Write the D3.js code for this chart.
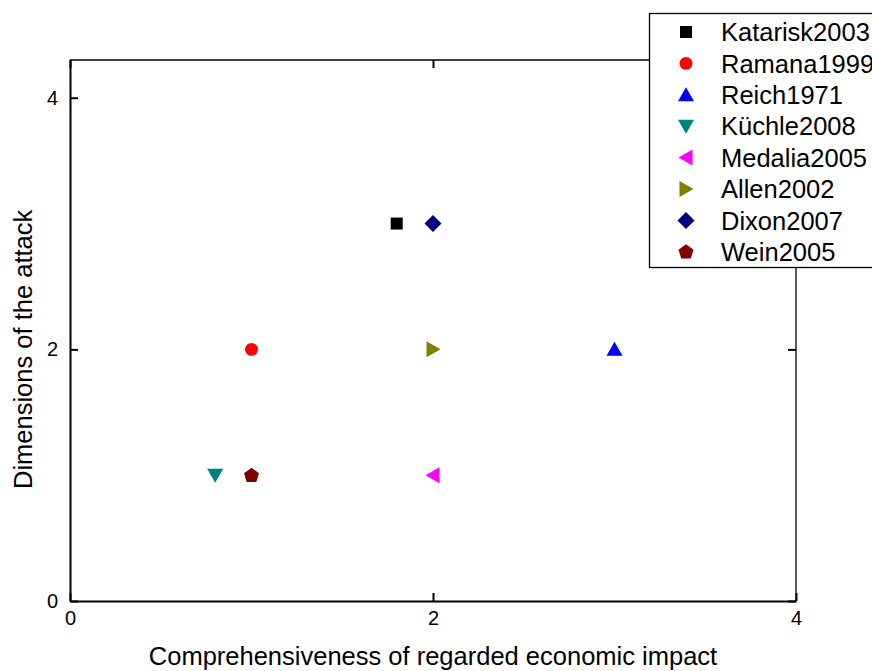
<!DOCTYPE html>
<html>
<head>
<meta charset="utf-8">
<script src="https://cdn.jsdelivr.net/npm/d3@7"></script>
<style>
  body { margin: 0; background: #fff; }
  svg { font-family: "Liberation Sans", Arial, sans-serif; }
</style>
</head>
<body>
<svg id="canvas" width="872" height="671"></svg>
<script>
"use strict";

const studies = ["Katarisk2003", "Ramana1999", "Reich1971", "Küchle2008", "Medalia2005", "Allen2002", "Dixon2007", "Wein2005"];
const impactValues = [1.8, 1, 3, 0.8, 2, 2, 2, 1];
const dimensionValues = [3, 2, 2, 1, 1, 2, 3, 1];
const colors = ["#000000", "#ff0000", "#0000ff", "#008080", "#ff00ff", "#808000", "#000080", "#800000"];
const xTicks = [0, 2, 4];
const yTicks = [0, 2, 4];

const margin = { left: 70, right: 76, top: 60, bottom: 70 };
const width = 872, height = 671;

const canvas = d3.select("#canvas");

const x = d3.scaleLinear().domain([0, 4]).range([margin.left, width - margin.right]);
const y = d3.scaleLinear().domain([0, 4.3]).range([height - margin.bottom, margin.top]);

// marker shapes, drawn around 0,0
const shapes = [
    "M-6,-6H6V6H-6Z",
    d3.symbol(d3.symbolCircle, 130)(),
    "M0,-7.5L8,6.5H-8Z",
    "M0,7.5L8,-6.5H-8Z",
    "M-7.5,0L6.5,-8V8Z",
    "M7.5,0L-6.5,-8V8Z",
    "M0,-8.5L8.5,0L0,8.5L-8.5,0Z",
    "M0,-7.5L7.5,-2L4.8,6.8H-4.8L-7.5,-2Z"
];

// frame: left/bottom heavier
const plot = canvas.append("g");
plot.append("line").attr("x1", x(0)).attr("x2", x(4)).attr("y1", y(4.3)).attr("y2", y(4.3))
    .attr("stroke", "#000").attr("stroke-width", 1.3);
plot.append("line").attr("x1", x(4)).attr("x2", x(4)).attr("y1", y(0)).attr("y2", y(4.3))
    .attr("stroke", "#000").attr("stroke-width", 1.3);

const xAxis = canvas.append("g")
    .attr("transform", `translate(0,${y(0)})`)
    .call(d3.axisBottom(x).tickValues(xTicks).tickFormat(d3.format("d")).tickSizeInner(-8).tickSizeOuter(0).tickPadding(10));
const xTop = canvas.append("g")
    .attr("transform", `translate(0,${y(4.3)})`)
    .call(d3.axisTop(x).tickValues(xTicks).tickFormat("").tickSizeInner(-8).tickSizeOuter(0));
const yAxis = canvas.append("g")
    .attr("transform", `translate(${x(0)},0)`)
    .call(d3.axisLeft(y).tickValues(yTicks).tickFormat(d3.format("d")).tickSizeInner(-8).tickSizeOuter(0).tickPadding(12));
const yRight = canvas.append("g")
    .attr("transform", `translate(${x(4)},0)`)
    .call(d3.axisRight(y).tickValues(yTicks).tickFormat("").tickSizeInner(-8).tickSizeOuter(0));

[xAxis, yAxis].forEach(a => {
    a.attr("font-size", 20).attr("font-family", "Liberation Sans, Arial, sans-serif");
    a.select(".domain").attr("stroke", "#000").attr("stroke-width", 2);
    a.selectAll(".tick line").attr("stroke", "#000").attr("stroke-width", 2);
    a.selectAll(".tick text").attr("fill", "#000");
});
[xTop, yRight].forEach(a => {
    a.select(".domain").remove();
    a.selectAll(".tick line").attr("stroke", "#000").attr("stroke-width", 2);
});

canvas.append("text")
    .attr("x", x(2)).attr("y", 665)
    .attr("text-anchor", "middle").attr("font-size", 25.5)
    .text("Comprehensiveness of regarded economic impact");
canvas.append("text")
    .attr("transform", `translate(32,${y(2)}) rotate(-90)`)
    .attr("text-anchor", "middle").attr("font-size", 25.5)
    .text("Dimensions of the attack");

// points
canvas.append("g").selectAll("path")
    .data(studies)
    .enter()
    .append("path")
    .attr("d", (d, i) => shapes[i])
    .attr("transform", (d, i) => `translate(${x(impactValues[i])},${y(dimensionValues[i])})`)
    .attr("fill", (d, i) => colors[i]);

// legend
const legend = canvas.append("g");
legend.append("rect")
    .attr("x", 649.5).attr("y", 13.5).attr("width", 240).attr("height", 254)
    .attr("fill", "#fff").attr("stroke", "#000").attr("stroke-width", 1.3);
const rows = legend.selectAll("g.row")
    .data(studies)
    .enter()
    .append("g")
    .attr("transform", (d, i) => `translate(686,${32 + i * 31.4})`);
rows.append("path")
    .attr("d", (d, i) => shapes[i])
    .attr("fill", (d, i) => colors[i]);
rows.append("text")
    .attr("x", 35).attr("dy", "0.36em")
    .attr("font-size", 25.5)
    .text(d => d);
</script>
</body>
</html>
